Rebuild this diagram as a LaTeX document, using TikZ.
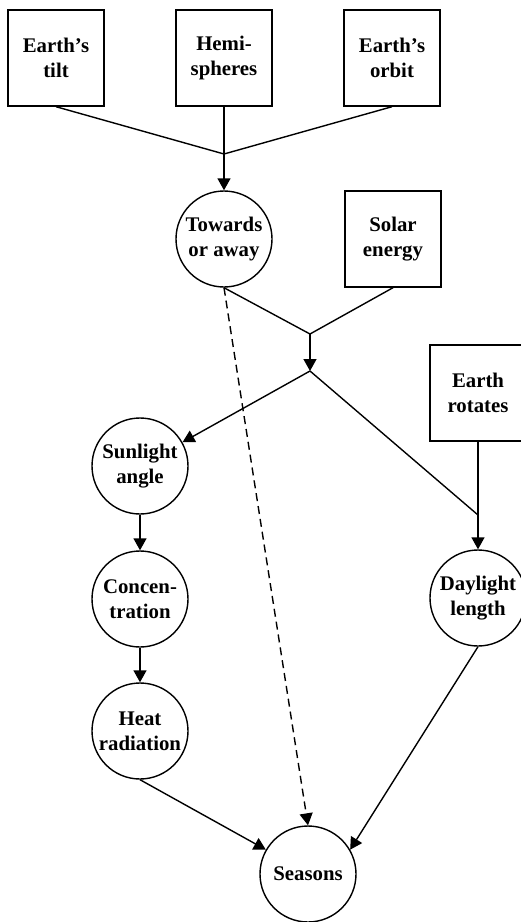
\documentclass[tikz,border=0pt]{standalone}
\usepackage{fontspec}
\setmainfont{Liberation Serif}
\usetikzlibrary{arrows.meta,calc}

\begin{document}
\begin{tikzpicture}[x=1pt,y=-1pt,>={Triangle[length=12pt,width=13pt]},line width=1.4pt,font=\fontsize{20.8}{25}\selectfont\bfseries]
\tikzstyle{bx}=[draw,minimum width=96pt,minimum height=96pt,align=center,inner sep=0pt]
\tikzstyle{cr}=[draw,circle,minimum size=96pt,align=center,inner sep=0pt]
\clip (0,0) rectangle (521,922);
% top row of factors
\node[bx] (tilt) at (56,58) {Earth’s\\ tilt}; \node[bx] (hemi) at (224,58) {Hemi-\\ spheres}; \node[bx] (orbit) at (392,58) {Earth’s\\ orbit};
\coordinate (j1) at (224,154);
\draw (tilt.south) -- (j1) -- (orbit.south); \draw (hemi.south) -- (j1);
\node[cr] (tow) at (224,239) {Towards\\ or away}; \node[bx] (solar) at (393,239) {Solar\\ energy};
\draw[->] (j1) -- (tow);
\coordinate (j2) at (310,334); \coordinate (j3) at (310,371);
\draw (tow.south) -- (j2) -- (solar.south); \draw[->] (j2) -- (j3);
% left chain
\node[cr] (sun) at (140,466) {Sunlight\\ angle}; \node[cr] (conc) at (140,599) {Concen-\\ tration}; \node[cr] (heat) at (140,731) {Heat\\ radiation};
\draw[->] (j3) -- (sun); \draw[->] (sun) -- (conc); \draw[->] (conc) -- (heat);
% right chain
\node[bx] (rot) at (478,393) {Earth\\ rotates}; \node[cr] (day) at (478,598) {Daylight\\ length};
\coordinate (j4) at (478,515);
\draw (j3) -- (j4); \draw[->] (rot) -- (day);
% result
\node[cr] (seas) at (308,874) {Seasons};
\draw[->] (heat.south) -- (seas.150); \draw[->] (day.south) -- (seas.30);
\draw[->,dash pattern=on 8pt off 5pt] (tow.south) -- (seas.north);
\end{tikzpicture}
\end{document}
